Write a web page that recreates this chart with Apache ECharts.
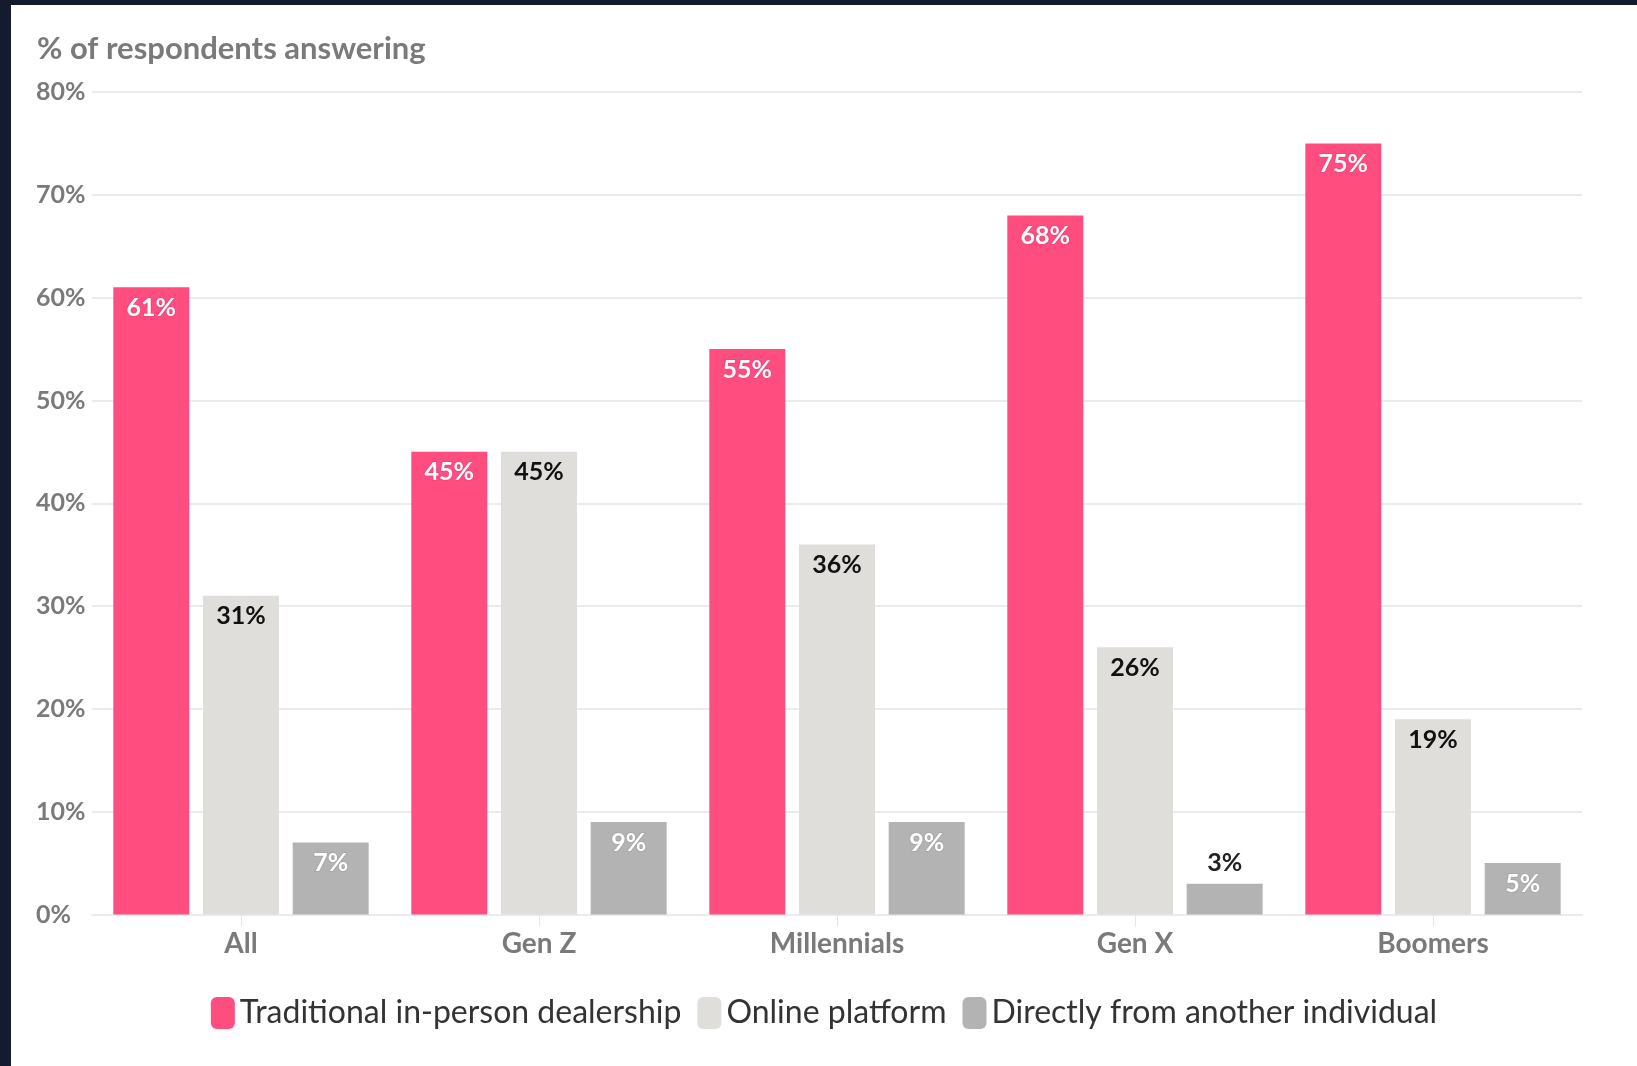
<!DOCTYPE html>
<html>
<head>
<meta charset="utf-8">
<script src="https://cdn.jsdelivr.net/npm/echarts@6/dist/echarts.min.js"></script>
<style>
html,body{margin:0;padding:0;background:#141b2d;width:1637px;height:1066px;overflow:hidden;}
#c{position:absolute;left:11px;top:5px;width:1626px;height:1061px;background:#fff;}
</style>
</head>
<body>
<div id="c"></div>
<script>
const categories = ['All', 'Gen Z', 'Millennials', 'Gen X', 'Boomers'];
const seriesNames = ['Traditional in-person dealership', 'Online platform', 'Directly from another individual'];
const dealership = [61, 45, 55, 68, 75];
const online = [31, 45, 36, 26, 19];
const direct = [7, 9, 9, 3, 5];
const yTicks = [0, 10, 20, 30, 40, 50, 60, 70, 80];
const titleText = '% of respondents answering';

const FONT = 'Lato';
const colors = ['#ff4d80', '#e0deda', '#b3b3b3'];

const chart = echarts.init(document.getElementById('c'), null, {renderer: 'canvas'});

function labelFor(textColor, outline) {
  return {
    show: true,
    position: 'insideTop',
    distance: 8,
    formatter: '{c}%',
    fontFamily: FONT,
    fontWeight: 'bold',
    fontSize: 25,
    color: textColor,
    textBorderColor: outline,
    textBorderWidth: outline ? 2 : 0
  };
}

const directData = direct.map(v => {
  if (v < 5) {
    return {value: v, label: {position: 'top', color: '#222', textBorderWidth: 0, distance: 8}};
  }
  return v;
});

chart.setOption({
  animation: false,
  backgroundColor: '#fff',
  title: {
    text: titleText,
    left: 21,
    top: 23,
    textStyle: {fontFamily: FONT, fontWeight: 'bold', fontSize: 31, color: '#7a7a7a'}
  },
  legend: {
    bottom: 32,
    left: 'center',
    itemWidth: 24,
    itemHeight: 32,
    itemGap: 16,
    icon: 'roundRect',
    textStyle: {fontFamily: FONT, fontSize: 32, color: '#333'},
    data: seriesNames
  },
  grid: {left: 81, right: 55, top: 87, bottom: 151.5, containLabel: false},
  xAxis: {
    type: 'category',
    data: categories,
    axisLine: {show: true, lineStyle: {color: '#ebebeb', width: 2}},
    axisTick: {show: true, alignWithLabel: true, length: 12, lineStyle: {color: '#e6e6e6'}},
    axisLabel: {fontFamily: FONT, fontWeight: 'bold', fontSize: 28, color: '#7a7a7a', margin: 15}
  },
  yAxis: {
    type: 'value',
    min: 0,
    max: 80,
    interval: 10,
    axisLine: {show: false},
    axisTick: {show: false},
    splitLine: {lineStyle: {color: '#ebebeb', width: 2}},
    axisLabel: {
      formatter: v => yTicks.includes(v) ? v + '%' : '',
      fontFamily: FONT, fontWeight: 'bold', fontSize: 25, color: '#7a7a7a',
      align: 'left', margin: 56
    }
  },
  series: [
    {name: seriesNames[0], type: 'bar', data: dealership, barWidth: 76, barGap: '18%',
     itemStyle: {color: colors[0]}, label: labelFor('#fff', '#f2467a')},
    {name: seriesNames[1], type: 'bar', data: online, barWidth: 76, barGap: '18%',
     itemStyle: {color: colors[1]}, label: labelFor('#111', null)},
    {name: seriesNames[2], type: 'bar', data: directData, barWidth: 76, barGap: '18%',
     itemStyle: {color: colors[2]}, label: labelFor('#fff', '#a8a8a8')}
  ]
});
</script>
</body>
</html>
